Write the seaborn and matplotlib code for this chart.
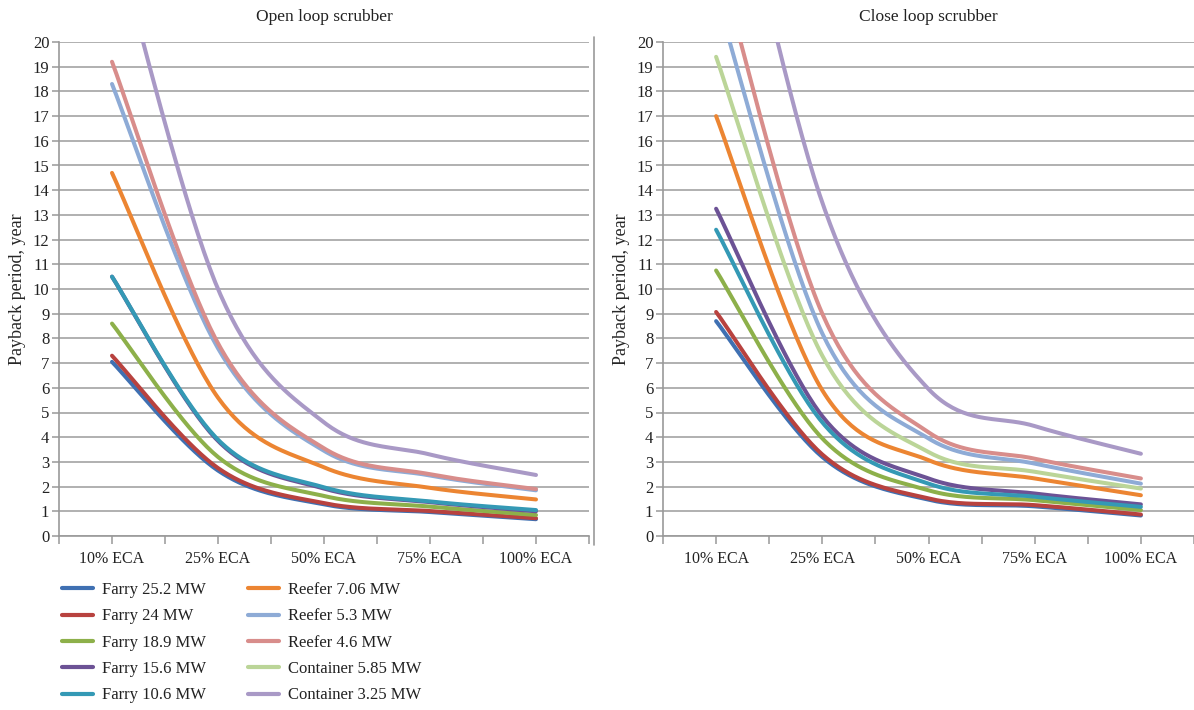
import numpy as np
import pandas as pd
import matplotlib
matplotlib.use("Agg")
import matplotlib.pyplot as plt
from matplotlib.lines import Line2D
import seaborn as sns

# categories on the x axis
categories = ["10% ECA", "25% ECA", "50% ECA", "75% ECA", "100% ECA"]

series = ["Farry 25.2 MW", "Farry 24 MW", "Farry 18.9 MW", "Farry 15.6 MW",
          "Farry 10.6 MW", "Reefer 7.06 MW", "Reefer 5.3 MW", "Reefer 4.6 MW",
          "Container 5.85 MW", "Container 3.25 MW"]
colors = ["#3F70B2", "#B8423F", "#8DB04A", "#6C5295", "#3499B5",
          "#EC8532", "#8EABD6", "#D88D8B", "#BBD598", "#A999C6"]

# Open loop scrubber, payback period (years)
open_farry_252 = [7.05, 2.65, 1.28, 0.97, 0.68]
open_farry_24 = [7.3, 2.75, 1.33, 1.01, 0.72]
open_farry_189 = [8.6, 3.2, 1.62, 1.19, 0.85]
open_farry_156 = [10.5, 3.85, 1.92, 1.37, 1.0]
open_farry_106 = [10.5, 3.9, 1.97, 1.4, 1.05]
open_reefer_706 = [14.7, 5.6, 2.78, 1.95, 1.48]
open_reefer_53 = [18.3, 7.6, 3.45, 2.45, 1.85]
open_reefer_46 = [19.2, 7.8, 3.55, 2.5, 1.9]
open_container_325 = [24.7, 10.0, 4.6, 3.3, 2.47]

# Close loop scrubber, payback period (years)
close_farry_252 = [8.7, 3.2, 1.47, 1.2, 0.83]
close_farry_24 = [9.07, 3.3, 1.52, 1.25, 0.87]
close_farry_189 = [10.75, 3.95, 1.85, 1.45, 1.05]
close_farry_156 = [13.25, 4.85, 2.33, 1.72, 1.28]
close_farry_106 = [12.4, 4.6, 2.12, 1.59, 1.18]
close_reefer_706 = [17.0, 5.9, 3.07, 2.33, 1.65]
close_reefer_53 = [21.9, 8.2, 3.95, 2.93, 2.12]
close_reefer_46 = [23.7, 9.0, 4.2, 3.13, 2.33]
close_container_585 = [19.4, 7.3, 3.4, 2.6, 1.92]
close_container_325 = [30.6, 13.5, 5.95, 4.45, 3.33]

open_values = [open_farry_252, open_farry_24, open_farry_189, open_farry_156,
               open_farry_106, open_reefer_706, open_reefer_53, open_reefer_46,
               None, open_container_325]
close_values = [close_farry_252, close_farry_24, close_farry_189, close_farry_156,
                close_farry_106, close_reefer_706, close_reefer_53, close_reefer_46,
                close_container_585, close_container_325]


def smoothed(vals, n=40):
    # Excel style "smoothed line": bezier segments through the points
    x = np.arange(len(vals), dtype=float)
    y = np.asarray(vals, dtype=float)
    xs, ys = [], []
    last = len(y) - 1
    for i in range(last):
        i0 = max(i - 1, 0)
        i3 = min(i + 2, last)
        t = np.linspace(0, 1, n, endpoint=(i == last - 1))
        for p, out in ((x, xs), (y, ys)):
            c1 = p[i] + (p[i + 1] - p[i0]) / 6
            c2 = p[i + 1] - (p[i3] - p[i]) / 6
            out.append((1 - t) ** 3 * p[i] + 3 * (1 - t) ** 2 * t * c1
                       + 3 * (1 - t) * t ** 2 * c2 + t ** 3 * p[i + 1])
    return np.concatenate(xs), np.concatenate(ys)


def long_table(values):
    rows = []
    for name, vals in zip(series, values):
        if vals is None:
            continue
        xs, ys = smoothed(vals)
        rows.append(pd.DataFrame({"series": name, "x": xs, "y": ys}))
    return pd.concat(rows, ignore_index=True)


sns.set_theme(style="white")
plt.rcParams["font.family"] = ["Liberation Serif", "DejaVu Serif"]
plt.rcParams["text.color"] = "#222222"

W, H = 1194, 710
fig = plt.figure(figsize=(W / 100, H / 100), dpi=100)
ax1 = fig.add_axes([59 / W, (H - 536) / H, 530 / W, 494 / H])
ax2 = fig.add_axes([663 / W, (H - 536) / H, 531 / W, 494 / H])

palette = dict(zip(series, colors))

for ax, values, title in ((ax1, open_values, "Open loop scrubber"),
                          (ax2, close_values, "Close loop scrubber")):
    df = long_table(values)
    order = [s for s, v in zip(series, values) if v is not None]
    sns.lineplot(data=df, x="x", y="y", hue="series", hue_order=order,
                 palette=palette, estimator=None, sort=False, linewidth=2.9,
                 solid_capstyle="round", legend=False, ax=ax)
    ax.set_xlim(-0.5, 4.5)
    ax.set_ylim(0, 20)
    ax.set_yticks(range(0, 21))
    ax.set_xticks(range(len(categories)))
    ax.set_xticklabels(categories)
    ax.set_xticks(np.arange(-0.5, 5, 1.0), minor=True)
    ax.yaxis.grid(True, color="#a3a3a3", linewidth=1.2)
    ax.xaxis.grid(False)
    ax.set_axisbelow(True)
    for side in ("top", "right"):
        ax.spines[side].set_visible(False)
    for side in ("left", "bottom"):
        ax.spines[side].set_color("#999999")
        ax.spines[side].set_linewidth(1.2)
    ax.tick_params(axis="both", which="both", direction="out", length=5,
                   width=1.1, color="#999999", labelsize=11.5,
                   labelcolor="#222222")
    ax.tick_params(axis="x", which="both", bottom=True, length=6, pad=5)
    ax.tick_params(axis="y", left=True, pad=2, labelsize=12)
    ax.set_xlabel("")
    ax.set_ylabel("Payback period, year", fontsize=13, labelpad=5)
    ax.set_title(title, fontsize=12.5, pad=15)

# separator line between the two charts
fig.add_artist(Line2D([594 / W, 594 / W], [(H - 37) / H, (H - 545) / H],
                      color="#999999", linewidth=1.2))

handles = [Line2D([], [], color=c, linewidth=3) for c in colors]
fig.legend(handles, series, ncol=2, loc="upper left",
           bbox_to_anchor=(62 / W, (H - 582) / H), frameon=False,
           fontsize=12, handlelength=1.85, handletextpad=0.55,
           columnspacing=2.5, labelspacing=0.62, borderpad=0,
           borderaxespad=0)

fig.savefig("out.png", dpi=100)
